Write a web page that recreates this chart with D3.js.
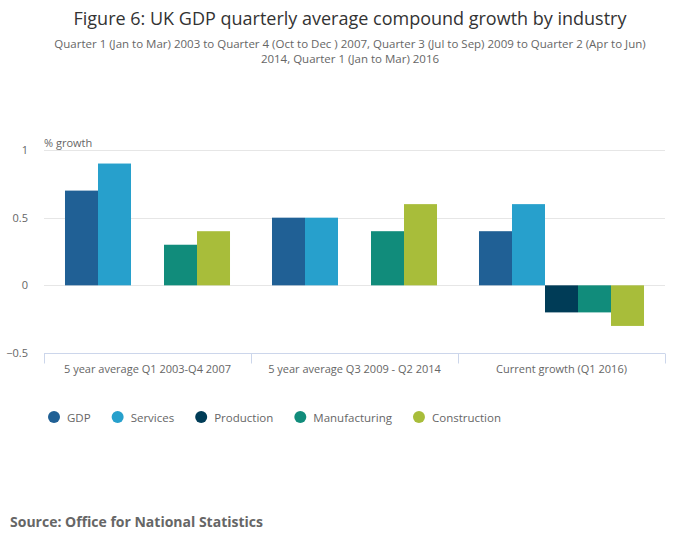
<!DOCTYPE html>
<html>
<head>
<meta charset="utf-8">
<script src="https://cdn.jsdelivr.net/npm/d3@7"></script>
<style>
  body { margin: 0; background: #fff; }
  svg { font-family: "Open Sans", sans-serif; }
</style>
</head>
<body>
<svg id="chart"></svg>
<script>
// data
const categories = ["5 year average Q1 2003-Q4 2007", "5 year average Q3 2009 - Q2 2014", "Current growth (Q1 2016)"]
const seriesNames = ["GDP", "Services", "Production", "Manufacturing", "Construction"]
const seriesColors = ["#206095", "#27a0cc", "#003c57", "#118c7b", "#a8bd3a"]
const gdp = [0.7, 0.5, 0.4]
const services = [0.9, 0.5, 0.6]
const production = [0, 0, -0.2]
const manufacturing = [0.3, 0.4, -0.2]
const construction = [0.4, 0.6, -0.3]
const yTicks = [-0.5, 0, 0.5, 1]

const values = [gdp, services, production, manufacturing, construction]

const width = 700, height = 549
const margin = { top: 150, right: 35, bottom: 196, left: 44 }

const svg = d3.select("#chart").attr("width", width).attr("height", height)

// titles
svg.append("text")
  .attr("x", width / 2).attr("y", 25)
  .attr("text-anchor", "middle")
  .style("font-size", "18px").style("fill", "#333")
  .text("Figure 6: UK GDP quarterly average compound growth by industry")

const subtitle = ["Quarter 1 (Jan to Mar) 2003 to Quarter 4 (Oct to Dec ) 2007, Quarter 3 (Jul to Sep) 2009 to Quarter 2 (Apr to Jun)",
  "2014, Quarter 1 (Jan to Mar) 2016"]
svg.append("text")
  .attr("x", width / 2).attr("y", 48)
  .attr("text-anchor", "middle")
  .style("font-size", "11.5px").style("fill", "#666")
  .selectAll("tspan").data(subtitle).enter().append("tspan")
  .attr("x", width / 2).attr("dy", (d, i) => i ? 15 : 0)
  .text(d => d)

const x0 = d3.scaleBand().domain(categories)
  .range([margin.left, width - margin.right]).padding(0)
const x1 = d3.scaleBand().domain(seriesNames)
  .range([0, x0.bandwidth()]).paddingInner(0).paddingOuter(0.636)
const y = d3.scaleLinear().domain([-0.5, 1]).range([height - margin.bottom, margin.top])

// grid lines
svg.append("g").selectAll("line")
  .data(yTicks.filter(t => t > -0.5))
  .enter().append("line")
  .attr("x1", margin.left).attr("x2", width - margin.right)
  .attr("y1", d => Math.round(y(d)) + 0.5).attr("y2", d => Math.round(y(d)) + 0.5)
  .attr("stroke", "#e6e6e6")

// y labels
svg.append("g").selectAll("text")
  .data(yTicks).enter().append("text")
  .attr("x", 28).attr("y", d => y(d) + 4)
  .attr("text-anchor", "end")
  .style("font-size", "11px").style("fill", "#666")
  .text(d => d3.format("")(d))

svg.append("text")
  .attr("x", margin.left).attr("y", margin.top - 3)
  .style("font-size", "11px").style("fill", "#666")
  .text("% growth")

// bars
const groups = svg.append("g").selectAll("g")
  .data(categories).enter().append("g")
  .attr("transform", d => `translate(${x0(d)},0)`)

groups.selectAll("rect")
  .data((c, ci) => seriesNames.map((s, si) => ({ s, si, v: values[si][ci] })))
  .enter().append("rect")
  .attr("x", d => x1(d.s))
  .attr("width", x1.bandwidth())
  .attr("y", d => y(Math.max(0, d.v)))
  .attr("height", d => Math.abs(y(d.v) - y(0)))
  .attr("fill", d => seriesColors[d.si])

// x axis
const xAxis = svg.append("g")
  .attr("transform", `translate(0,${Math.round(y(-0.5)) + 0.5})`)
xAxis.append("line")
  .attr("x1", margin.left).attr("x2", width - margin.right)
  .attr("stroke", "#ccd6eb")
xAxis.selectAll(".tick")
  .data(categories.map(c => x0(c)).concat([x0(categories[2]) + x0.bandwidth()]))
  .enter().append("line")
  .attr("x1", d => Math.round(d) + 0.5).attr("x2", d => Math.round(d) + 0.5)
  .attr("y1", 0).attr("y2", 10)
  .attr("stroke", "#ccd6eb")
xAxis.selectAll("text")
  .data(categories).enter().append("text")
  .attr("x", d => x0(d) + x0.bandwidth() / 2).attr("y", 19)
  .attr("text-anchor", "middle")
  .style("font-size", "11px").style("fill", "#666")
  .text(d => d)

// legend
const legend = svg.append("g").attr("transform", "translate(54,417)")
let lx = 0
seriesNames.forEach((s, i) => {
  const item = legend.append("g").attr("transform", `translate(${lx},0)`)
  item.append("circle").attr("r", 6).attr("fill", seriesColors[i])
  const t = item.append("text")
    .attr("x", 13).attr("y", 4.5)
    .style("font-size", "11.5px").style("fill", "#666")
    .text(s)
  lx += 13 + t.node().getComputedTextLength() + 27
})

svg.append("text")
  .attr("x", 10).attr("y", 527)
  .style("font-size", "14px").style("font-weight", "bold").style("fill", "#666")
  .text("Source: Office for National Statistics")
</script>
</body>
</html>
